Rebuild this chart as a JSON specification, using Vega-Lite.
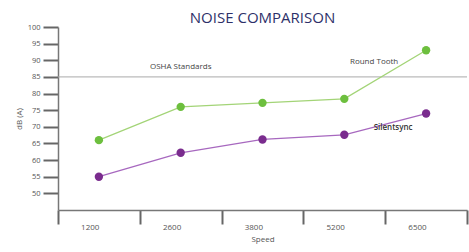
{
  "$schema": "https://vega.github.io/schema/vega-lite/v6.json",
  "width": 409,
  "height": 183,
  "autosize": {"type": "none"},
  "padding": {"left": 58, "top": 27, "right": 2, "bottom": 42},
  "background": "white",
  "config": {
    "view": {"stroke": null},
    "font": "Open Sans",
    "axis": {"grid": false, "labelFont": "Open Sans", "titleFont": "Open Sans", "labelColor": "#555", "titleColor": "#555", "domainColor": "#777", "tickColor": "#666"}
  },
  "title": {"text": "NOISE COMPARISON", "font": "Open Sans", "fontSize": 15, "fontWeight": "normal", "color": "#2d3069", "anchor": "middle", "offset": 2, "dy": 5},
  "datasets": {
    "noise": [
      {"speed": "1200", "series": "Round Tooth", "db": 66},
      {"speed": "2600", "series": "Round Tooth", "db": 76},
      {"speed": "3800", "series": "Round Tooth", "db": 77.2},
      {"speed": "5200", "series": "Round Tooth", "db": 78.4},
      {"speed": "6500", "series": "Round Tooth", "db": 93},
      {"speed": "1200", "series": "Silentsync", "db": 55},
      {"speed": "2600", "series": "Silentsync", "db": 62.2},
      {"speed": "3800", "series": "Silentsync", "db": 66.2},
      {"speed": "5200", "series": "Silentsync", "db": 67.6},
      {"speed": "6500", "series": "Silentsync", "db": 74}
    ],
    "osha": [{"db": 85, "label": "OSHA Standards"}]
  },
  "encoding": {
    "y": {"field": "db", "type": "quantitative",
      "scale": {"domain": [45, 100], "nice": false, "zero": false},
      "axis": {"title": "dB (A)", "titleFontSize": 8, "titleFontWeight": "normal", "titlePadding": 4, "values": [50, 55, 60, 65, 70, 75, 80, 85, 90, 95, 100], "labelOverlap": false, "labelFontSize": 7.5, "tickSize": 15, "tickWidth": 2, "labelPadding": 3, "domainWidth": 1.5}}
  },
  "layer": [
    {
      "data": {"name": "osha"},
      "mark": {"type": "rule", "color": "#aaa", "strokeWidth": 1},
      "encoding": {}
    },
    {
      "data": {"name": "osha"},
      "mark": {"type": "text", "fontSize": 8, "color": "#444", "dy": -10},
      "encoding": {
        "x": {"datum": "2600", "type": "nominal"},
        "text": {"field": "label"}
      }
    },
    {
      "data": {"name": "noise"},
      "mark": {"type": "line", "strokeWidth": 1.3},
      "encoding": {
        "x": {"field": "speed", "type": "nominal", "sort": ["1200", "2600", "3800", "5200", "6500"],
              "scale": {"type": "band", "paddingInner": 0, "paddingOuter": 0},
              "axis": {"title": "Speed", "titleFontSize": 8, "titleFontWeight": "normal", "titlePadding": 4, "labelAngle": 0, "labelFontSize": 8, "tickBand": "extent", "tickSize": 14, "tickWidth": 2, "labelPadding": 3, "domainWidth": 1.5}},
        "color": {"field": "series", "type": "nominal", "scale": {"domain": ["Round Tooth", "Silentsync"], "range": ["#a3d477", "#a768bf"]}, "legend": null}
      }
    },
    {
      "data": {"name": "noise"},
      "mark": {"type": "circle", "size": 70, "opacity": 1},
      "encoding": {
        "x": {"field": "speed", "type": "nominal", "sort": ["1200", "2600", "3800", "5200", "6500"]},
        "color": {"field": "series", "type": "nominal", "scale": {"domain": ["Round Tooth", "Silentsync"], "range": ["#6dbf3e", "#7a2c8e"]}, "legend": null}
      }
    },
    {
      "data": {"values": [{"speed": "6500", "db": 89.5, "label": "Round Tooth"}]},
      "mark": {"type": "text", "fontSize": 8, "color": "#444", "dx": -52},
      "encoding": {
        "x": {"field": "speed", "type": "nominal"},
        "text": {"field": "label"}
      }
    },
    {
      "data": {"values": [{"speed": "6500", "db": 69.7, "label": "Silentsync"}]},
      "mark": {"type": "text", "fontSize": 8, "color": "#333", "fontWeight": 600, "dx": -33},
      "encoding": {
        "x": {"field": "speed", "type": "nominal"},
        "text": {"field": "label"}
      }
    }
  ],
  "resolve": {"scale": {"color": "independent"}}
}
